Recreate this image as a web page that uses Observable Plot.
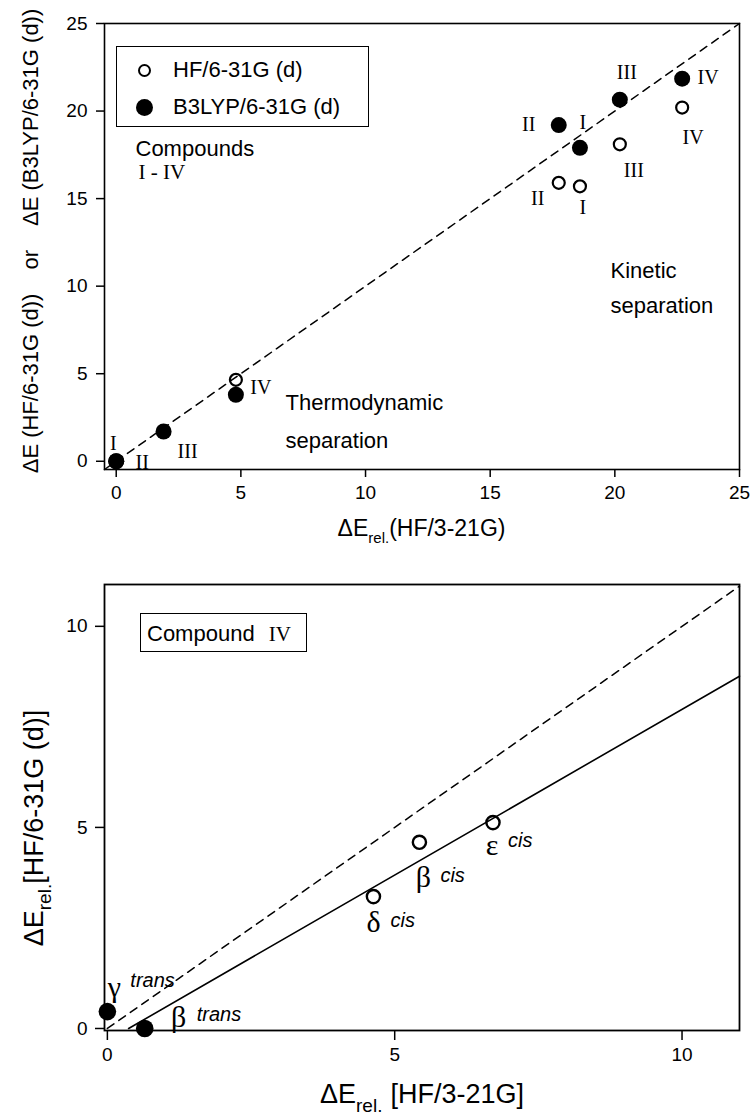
<!DOCTYPE html>
<html>
<head>
<meta charset="utf-8">
<script src="https://cdn.jsdelivr.net/npm/d3@7"></script>
<script src="https://cdn.jsdelivr.net/npm/@observablehq/plot@0.6"></script>
<style>
  body { margin: 0; background: #fff; }
  #fig { position: relative; width: 753px; height: 1114px; color: #000;
         font-family: "Liberation Sans", Arial, sans-serif; }
  #fig svg { position: absolute; left: 0; }
  .box { position: absolute; box-sizing: border-box; border: 1.5px solid #000; background: #fff; }
  .lab { position: absolute; white-space: nowrap; line-height: 22px; font-size: 22px; }
  .sym { position: absolute; box-sizing: border-box; border-radius: 50%; }
  .serif { font-family: "Liberation Serif", "Times New Roman", serif; }
</style>
</head>
<body>
<div id="fig"></div>
<script>
const SANS = '"Liberation Sans", Arial, sans-serif';
const SERIF = '"Liberation Serif", "Times New Roman", serif';

// ---- Upper panel: compounds I–IV, energies in kcal/mol ----
const compounds = ["I", "II", "III", "IV"];
// thermodynamic separation (low energies)
const thermo321 = [0, 0, 1.9, 4.8];
const thermoHF = [0, 0, 1.7, 4.65];
const thermoB3LYP = [0, 0, 1.7, 3.8];
// kinetic separation (high energies)
const kinetic321 = [18.6, 17.75, 20.2, 22.7];
const kineticHF = [15.7, 15.9, 18.1, 20.2];
const kineticB3LYP = [17.9, 19.2, 20.65, 21.85];
const methods = ["HF/6-31G (d)", "B3LYP/6-31G (d)"];
const upperTicks = [0, 5, 10, 15, 20, 25];
const upperDomain = [-0.47, 25];

// ---- Lower panel: conformers of compound IV ----
const conformers = ["γ", "β", "δ", "β", "ε"];
const conformerForm = ["trans", "trans", "cis", "cis", "cis"];
const conformer321 = [0, 0.65, 4.63, 5.43, 6.71];
const conformer631 = [0.42, 0, 3.28, 4.63, 5.12];
// least-squares line through the conformer energies
const fit321 = [0.37, 11];
const fit631 = [0, 8.76];
const lowerTicks = [0, 5, 10];
const lowerXDomain = [-0.05, 11];
const lowerYDomain = [-0.05, 11.04];

// ---------- tables ----------
const upperRows = compounds.flatMap((c, i) => [
  {compound: c, set: "thermo", x: thermo321[i], hf: thermoHF[i], b3: thermoB3LYP[i]},
  {compound: c, set: "kinetic", x: kinetic321[i], hf: kineticHF[i], b3: kineticB3LYP[i]}
]);
const conformerRows = conformers.map((g, i) => ({
  greek: g, form: conformerForm[i], x: conformer321[i], y: conformer631[i]
}));
const fitRows = fit321.map((x, i) => ({x, y: fit631[i]}));

// where each compound label sits next to its point (pixel offsets)
const upperLabelPlacement = [
  {set: "thermo", m: "b3", c: "I", dx: -3, dy: -18},
  {set: "thermo", m: "b3", c: "II", dx: 26, dy: 1},
  {set: "thermo", m: "b3", c: "III", dx: 24, dy: 20},
  {set: "thermo", m: "hf", c: "IV", dx: 25, dy: 8},
  {set: "kinetic", m: "b3", c: "I", dx: 3, dy: -25},
  {set: "kinetic", m: "b3", c: "II", dx: -30, dy: 0},
  {set: "kinetic", m: "b3", c: "III", dx: 7, dy: -27},
  {set: "kinetic", m: "b3", c: "IV", dx: 26, dy: -1},
  {set: "kinetic", m: "hf", c: "I", dx: 3, dy: 21},
  {set: "kinetic", m: "hf", c: "II", dx: -21, dy: 16},
  {set: "kinetic", m: "hf", c: "III", dx: 14, dy: 26},
  {set: "kinetic", m: "hf", c: "IV", dx: 11, dy: 30}
];
const upperLabels = upperLabelPlacement.map(p => {
  const row = upperRows.find(r => r.set === p.set && r.compound === p.c);
  return Plot.text([row], {x: "x", y: p.m, text: "compound", dx: p.dx, dy: p.dy,
    fontFamily: SERIF, fontSize: 20, fill: "black"});
});

const conformerPlacement = [
  {g: [7, -24], f: [23, -31]},
  {g: [34, -11], f: [52, -14]},
  {g: [0, 26], f: [17, 24]},
  {g: [4, 35], f: [21, 33]},
  {g: [-1, 23], f: [15, 18]}
];
const lowerLabels = conformerRows.flatMap((row, i) => [
  Plot.text([row], {x: "x", y: "y", text: "greek", dx: conformerPlacement[i].g[0], dy: conformerPlacement[i].g[1],
    fontFamily: SERIF, fontSize: 30, fill: "black"}),
  Plot.text([row], {x: "x", y: "y", text: "form", dx: conformerPlacement[i].f[0], dy: conformerPlacement[i].f[1],
    textAnchor: "start", fontFamily: SANS, fontStyle: "italic", fontSize: 20, fill: "black"})
]);

function note(text, dx, dy, font = SANS, size = 22) {
  return Plot.text([text], {frameAnchor: "top-left", dx, dy, textAnchor: "start", lineAnchor: "middle",
    fontFamily: font, fontSize: size, fill: "black"});
}

// ---------- upper chart ----------
const upper = Plot.plot({
  width: 753, height: 560,
  marginLeft: 104, marginRight: 14, marginTop: 23, marginBottom: 91,
  style: {background: "transparent", color: "black", fontFamily: SANS, fontSize: "19px", overflow: "visible"},
  x: {domain: upperDomain},
  y: {domain: upperDomain},
  marks: [
    Plot.line(upperDomain.map(v => ({x: v, y: v})), {x: "x", y: "y", stroke: "black", strokeWidth: 1.5, strokeDasharray: "8,6"}),
    Plot.frame({stroke: "black", strokeWidth: 1.6}),
    Plot.axisX(upperTicks, {tickSize: 8, tickPadding: 8, fontSize: 19, strokeWidth: 1.5, label: null}),
    Plot.axisY(upperTicks, {tickSize: 8, tickPadding: 9, fontSize: 19, strokeWidth: 1.5, label: null}),
    Plot.dot(upperRows, {x: "x", y: "hf", r: 6, stroke: "black", strokeWidth: 2.2, fill: "none"}),
    Plot.dot(upperRows, {x: "x", y: "b3", r: 8, fill: "black"}),
    ...upperLabels,
    note("Compounds", 31, 125),
    note("I - IV", 34, 149, SERIF, 21),
    note("Thermodynamic", 181, 379),
    note("separation", 181, 417),
    note("Kinetic", 506, 247),
    note("separation", 506, 282)
  ]
});

// ---------- lower chart ----------
const lower = Plot.plot({
  width: 753, height: 554,
  marginLeft: 104, marginRight: 14, marginTop: 24, marginBottom: 84,
  style: {background: "transparent", color: "black", fontFamily: SANS, fontSize: "19px", overflow: "visible"},
  x: {domain: lowerXDomain},
  y: {domain: lowerYDomain},
  marks: [
    Plot.line(lowerXDomain.map(v => ({x: Math.max(0, v), y: Math.max(0, v)})), {x: "x", y: "y", stroke: "black", strokeWidth: 1.5, strokeDasharray: "8,6"}),
    Plot.line(fitRows, {x: "x", y: "y", stroke: "black", strokeWidth: 1.6}),
    Plot.frame({stroke: "black", strokeWidth: 1.8}),
    Plot.axisX(lowerTicks, {tickSize: 10, tickPadding: 7, fontSize: 19, strokeWidth: 1.5, label: null}),
    Plot.axisY(lowerTicks, {tickSize: 9, tickPadding: 8, fontSize: 19, strokeWidth: 1.5, label: null}),
    Plot.dot(conformerRows.filter(d => d.form === "cis"), {x: "x", y: "y", r: 6.6, stroke: "black", strokeWidth: 2.4, fill: "none"}),
    Plot.dot(conformerRows.filter(d => d.form === "trans"), {x: "x", y: "y", r: 8.8, fill: "black"}),
    ...lowerLabels
  ]
});

// ---------- axis titles with subscripts ----------
function title(svg, x, y, rotate, size, parts) {
  const t = d3.select(svg).append("text")
    .attr("transform", `translate(${x},${y})` + (rotate ? " rotate(-90)" : ""))
    .attr("text-anchor", "middle")
    .attr("fill", "black")
    .style("font-family", SANS)
    .style("font-size", size + "px");
  for (const p of parts) {
    const s = t.append("tspan").text(p.text);
    if (p.size) s.style("font-size", p.size + "px");
    if (p.dx) s.attr("dx", p.dx);
    if (p.dy) s.attr("dy", p.dy);
  }
}

title(upper, 38, 241, true, 22, [
  {text: "ΔE (HF/6-31G (d))"},
  {text: "or", dx: 24},
  {text: "ΔE (B3LYP/6-31G (d))", dx: 24}
]);
title(upper, 421.5, 536, false, 23, [
  {text: "ΔE"},
  {text: "rel.", size: 15, dy: 7},
  {text: "(HF/3-21G)", size: 23, dy: -7}
]);
title(lower, 43, 268, true, 27, [
  {text: "ΔE"},
  {text: "rel.", size: 19, dy: 8},
  {text: "[HF/6-31G (d)]", size: 27, dy: -8}
]);
title(lower, 422, 543, false, 27, [
  {text: "ΔE"},
  {text: "rel.", size: 19, dy: 9},
  {text: "[HF/3-21G]", size: 27, dy: -9, dx: 8}
]);

const fig = document.getElementById("fig");
upper.style.top = "0px";
lower.style.top = "560px";
fig.append(upper, lower);

// ---------- legend (upper panel) and panel tag (lower panel) ----------
fig.insertAdjacentHTML("beforeend", `
  <div class="box" style="left:116px;top:46px;width:253px;height:81px;"></div>
  <div class="sym" style="left:137.5px;top:63.5px;width:13px;height:13px;border:2.2px solid #000;"></div>
  <div class="sym" style="left:135.5px;top:98.5px;width:17px;height:17px;background:#000;"></div>
  <div class="lab" style="left:173px;top:59px;">${methods[0]}</div>
  <div class="lab" style="left:173px;top:96px;">${methods[1]}</div>
  <div class="box" style="left:140px;top:613px;width:167px;height:39px;"></div>
  <div class="lab" style="left:147px;top:623px;">Compound<span class="serif" style="margin-left:14px;font-size:21px;">IV</span></div>
`);
</script>
</body>
</html>
